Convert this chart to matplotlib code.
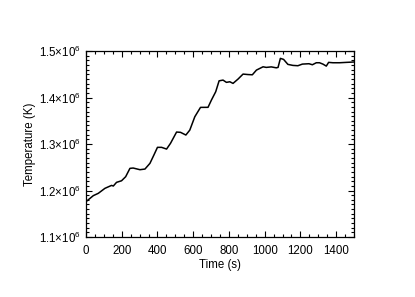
import matplotlib
matplotlib.use('Agg')
import matplotlib.pyplot as plt
from matplotlib.ticker import MultipleLocator, FuncFormatter

plt.rcParams['font.family'] = ['Liberation Sans', 'DejaVu Sans']
plt.rcParams['mathtext.fontset'] = 'custom'
plt.rcParams['mathtext.rm'] = 'Liberation Sans'
plt.rcParams['mathtext.it'] = 'Liberation Sans:italic'

# values
time_s = [0, 41, 69, 106, 143, 153, 171, 199, 222, 246, 264, 302, 330, 358, 380,
          400, 423, 451, 473, 507, 529, 559, 581, 609, 641, 683, 702, 726, 745,
          767, 786, 805, 823, 851, 879, 907, 931, 954, 991, 1009, 1037, 1065,
          1075, 1088, 1106, 1130, 1158, 1186, 1211, 1248, 1267, 1289, 1307,
          1326, 1345, 1358, 1382, 1419, 1457, 1500]
temp_mk = [1.176, 1.189, 1.194, 1.2047, 1.211, 1.2097, 1.2176, 1.221, 1.2297,
           1.2477, 1.2484, 1.2448, 1.2462, 1.2585, 1.2763, 1.2929, 1.2929,
           1.2892, 1.3015, 1.3258, 1.3252, 1.3194, 1.330, 1.3587, 1.3789,
           1.379, 1.3946, 1.4125, 1.436, 1.4376, 1.4327, 1.434, 1.4305, 1.4398,
           1.4505, 1.4495, 1.449, 1.4591, 1.4662, 1.4649, 1.466, 1.464, 1.4649,
           1.4843, 1.4821, 1.4714, 1.4692, 1.4685, 1.472, 1.4728, 1.4706,
           1.4749, 1.4749, 1.472, 1.4677, 1.4757, 1.4749, 1.4749, 1.4757, 1.4765]
temp_k = [t * 1e6 for t in temp_mk]


def sci_label(v, pos):
    return r'$%.1f{\times}10^{6}$' % (v / 1e6)


fig = plt.figure(figsize=(4.15, 2.97), dpi=100)
ax = fig.add_axes([0.2072, 0.202, 0.6458, 0.626])
ax.plot(time_s, temp_k, color='black', lw=1.1)

ax.set_xlim(0, 1500)
ax.set_ylim(1.1e6, 1.5e6)
ax.xaxis.set_major_locator(MultipleLocator(200))
ax.xaxis.set_minor_locator(MultipleLocator(50))
ax.yaxis.set_major_locator(MultipleLocator(0.1e6))
ax.yaxis.set_minor_locator(MultipleLocator(0.01e6))
ax.yaxis.set_major_formatter(FuncFormatter(sci_label))

ax.tick_params(which='both', direction='in', top=True, right=True,
               labelsize=8.3, width=0.8, colors='black')
ax.tick_params(which='major', length=4.5)
ax.tick_params(which='minor', length=2)
ax.tick_params(axis='x', which='major', pad=5.5)
ax.tick_params(axis='y', which='major', pad=4)
for s in ax.spines.values():
    s.set_linewidth(0.9)

ax.set_xlabel('Time (s)', fontsize=8.3, labelpad=1.5)
ax.set_ylabel('Temperature (K)', fontsize=8.3, labelpad=2)

fig.savefig('out.png', dpi=100)
